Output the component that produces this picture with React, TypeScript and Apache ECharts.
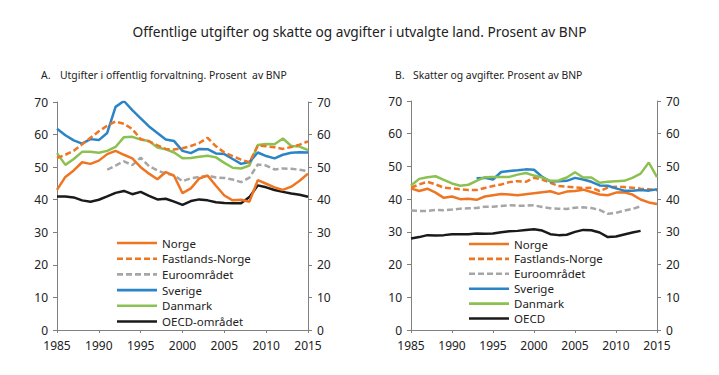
import React, { useEffect, useRef } from "react";
import * as echarts from "echarts";

const yearsA = Array.from({ length: 31 }, (_, i) => 1985 + i);
const yearsB = yearsA;

// Panel A: Utgifter i offentlig forvaltning (1985..2015)
const aNorge = [43, 47, 49, 51.5, 51, 52, 54, 55, 53.8, 52.7, 50, 48, 46.3, 48.5, 47.3, 42, 43.5, 46.5, 47.4, 44.3, 41.3, 39.8, 40, 39.4, 46, 44.9, 43.8, 43, 44, 45.8, 48];
const aFastland = [52.8, 53.8, 55, 57, 59, 61, 62.7, 64, 63.3, 61.7, 58.6, 57.9, 56.7, 55.6, 55.4, 55.8, 56.5, 57.4, 59, 56.4, 54.5, 53.4, 52.3, 51.5, 56.6, 56.4, 56.1, 55.6, 56.2, 56.9, 57.9];
const aEuro = [null, null, null, null, null, null, 49.2, 50.5, 51.8, 50.6, 52.9, 50.3, 49, 48, 47.5, 45.7, 46.6, 47, 47.4, 46.8, 46.7, 46.2, 45.4, 46.8, 50.8, 50.5, 49.3, 49.6, 49.5, 49.2, 48.8];
const aSverige = [61.8, 59.8, 58.2, 57.2, 58.6, 58.3, 60.5, 68.5, 70.3, 67.5, 65, 62.5, 60.5, 58.5, 58, 55, 54.3, 55.6, 55.5, 54.2, 54, 52.5, 51, 51.6, 54.5, 53.4, 52.7, 53.8, 54.4, 54.6, 54.5];
const aDanmark = [54.3, 50.7, 52.5, 54.7, 54.7, 54.4, 55, 56.2, 59.2, 59.3, 58.5, 58, 56, 55.5, 54.5, 52.7, 52.8, 53.2, 53.5, 53, 51.3, 49.8, 49.6, 50.5, 56.8, 57.1, 57, 58.8, 56.5, 56.3, 55.2];
const aOECD = [41, 41, 40.7, 39.8, 39.4, 40, 41, 42.1, 42.7, 41.7, 42.4, 41.2, 40.1, 40.3, 39.4, 38.4, 39.6, 40.1, 39.8, 39.2, 39, 38.9, 38.9, 40.8, 44.4, 43.8, 43, 42.4, 41.9, 41.5, 40.9];

// Panel B: Skatter og avgifter (1985..2015)
const bNorge = [43.3, 42.5, 43.2, 42, 40.4, 40.8, 40, 40.1, 39.8, 40.8, 41.2, 41.6, 41.4, 41.2, 41.5, 41.8, 42.1, 42.4, 41.6, 42.3, 42.5, 42.9, 42.2, 41.4, 41.2, 42, 42.1, 41.4, 39.9, 39, 38.5];
const bFastland = [43.5, 44.5, 45.3, 44.5, 43.5, 43.3, 43, 42.8, 42.8, 43.4, 44, 44.5, 45.2, 45.5, 45.3, 46.5, 46, 45, 44, 43.8, 43.6, 43.4, 43.5, 42.5, 43.5, 43.8, 43.7, 43.5, 43.2, 43, 42.7];
const bEuro = [36.5, 36.4, 36.4, 36.7, 36.6, 36.8, 37.1, 37.2, 37.3, 37.7, 37.7, 37.9, 38.1, 38, 38, 38.1, 37.6, 37.2, 37.1, 37, 37.4, 37.5, 37.3, 36.7, 35.5, 35.8, 36.5, 37, 37.8, null, null];
const bSverige = [null, null, null, null, null, null, null, null, 46.4, 46.5, 46, 48.3, 48.6, 48.8, 49.1, 49, 46.8, 45.4, 45.5, 45.6, 46.5, 46, 45.3, 44.2, 44.1, 43.3, 42.6, 42.6, 42.8, 42.6, 43];
const bDanmark = [44.2, 46.2, 46.7, 47, 45.9, 44.8, 44.1, 44.4, 45.6, 46.7, 46.8, 46.8, 46.8, 47.5, 48, 47.2, 46.6, 45.6, 45.7, 46.6, 48.2, 46.6, 46.6, 45, 45.3, 45.5, 45.6, 46.5, 47.8, 51.2, 46.7];
const bOECD = [28, 28.4, 29, 28.9, 29, 29.3, 29.3, 29.3, 29.5, 29.4, 29.5, 29.9, 30.2, 30.3, 30.6, 30.8, 30.4, 29.3, 29, 29.1, 30, 30.6, 30.5, 29.8, 28.4, 28.6, 29.2, 29.8, 30.3, null, null];

const legendA = ["Norge", "Fastlands-Norge", "Euroområdet", "Sverige", "Danmark", "OECD-området"];
const legendB = ["Norge ", "Fastlands-Norge ", "Euroområdet ", "Sverige ", "Danmark ", "OECD"];
const dashedNames = ["Fastlands-Norge", "Euroområdet"];

const ORANGE = "#EE7623";
const GRAY = "#A6A6A6";
const BLUE = "#2B84C6";
const GREEN = "#8CC152";
const BLACK = "#1A1A1A";
const FONT = "Noto Sans";

const SOLID_ICON = "path://M0,0H40V2.6H0Z";
const DASH_ICON = "path://M0,0H6V2.6H0Z M9,0H15V2.6H9Z M18,0H24V2.6H18Z M27,0H33V2.6H27Z M36,0H40V2.6H36Z";

const pairs = (years: number[], vals: (number | null)[]) =>
  years.map((y, i) => [y, vals[i] === null ? null : vals[i]]);

export default function App() {
  const ref = useRef<HTMLDivElement>(null);
  useEffect(() => {
    if (!ref.current) return;
    const chart = echarts.init(ref.current, undefined, { renderer: "svg" });
    const axisLine = { show: true, lineStyle: { color: "#808080", width: 1 } };
    const gridA = { left: 57, right: 411, top: 102, bottom: 45 };
    const gridB = { left: 411, right: 62, top: 101, bottom: 45 };
    const mkX = (gi: number, pos: "bottom" | "top") => ({
      type: "value",
      gridIndex: gi,
      position: pos,
      min: 1985,
      max: 2015,
      interval: 5,
      axisLine,
      axisTick: { show: pos === "bottom", length: 3, lineStyle: { color: "#808080" } },
      axisLabel: {
        show: pos === "bottom",
        color: "#222",
        fontSize: 12,
        lineHeight: 12,
        fontFamily: FONT,
        margin: 9,
        formatter: (v: number) => String(v),
      },
      splitLine: { show: false },
    });
    const mkY = (gi: number, pos: "left" | "right") => ({
      type: "value",
      gridIndex: gi,
      position: pos,
      min: 0,
      max: 70,
      interval: 10,
      axisLine,
      axisTick: { show: true, length: 4, lineStyle: { color: "#808080" } },
      axisLabel: { color: "#222", fontSize: 12, lineHeight: 12, fontFamily: FONT, margin: 9 },
      splitLine: { show: false },
    });
    const line = (name: string, xi: number, yi: number, years: number[], vals: (number | null)[], color: string, dashed = false) => ({
      type: "line",
      name,
      xAxisIndex: xi,
      yAxisIndex: yi,
      data: pairs(years, vals),
      symbol: "none",
      showSymbol: false,
      connectNulls: false,
      lineStyle: { color, width: 2.5, type: dashed ? [6, 3] : "solid" },
      itemStyle: { color },
    });
    const legendItems = (names: string[]) =>
      names.map((n) => ({ name: n, icon: dashedNames.includes(n.trim()) ? DASH_ICON : SOLID_ICON }));
    const legendBase = {
      orient: "vertical",
      itemWidth: 40,
      itemHeight: 3,
      textStyle: { fontSize: 11.5, lineHeight: 11.5, fontFamily: FONT, color: "#222" },
      selectedMode: false,
    };
    const sub = { fontSize: 10.4, fontWeight: "normal", fontFamily: FONT, color: "#222" };
    chart.setOption({
      animation: false,
      title: [
        {
          text: "Offentlige utgifter og skatte og avgifter i utvalgte land. Prosent av BNP",
          left: "center",
          top: 19,
          textStyle: { fontSize: 13.7, fontWeight: "normal", fontFamily: FONT, color: "#222" },
        },
        { text: "A.", left: 36, top: 65, textStyle: sub },
        { text: "Utgifter i offentlig forvaltning. Prosent  av BNP", left: 55, top: 65, textStyle: sub },
        { text: "B.", left: 390, top: 65, textStyle: sub },
        { text: "Skatter og avgifter. Prosent av BNP", left: 408, top: 65, textStyle: sub },
      ],
      legend: [
        { ...legendBase, left: 112, top: 232, itemGap: 3.7, data: legendItems(legendA) },
        { ...legendBase, left: 464, top: 233, itemGap: 2.9, data: legendItems(legendB) },
      ],
      grid: [gridA, gridB],
      xAxis: [mkX(0, "bottom"), mkX(0, "top"), mkX(1, "bottom"), mkX(1, "top")],
      yAxis: [mkY(0, "left"), mkY(0, "right"), mkY(1, "left"), mkY(1, "right")],
      series: [
        line("Euroområdet", 0, 0, yearsA, aEuro, GRAY, true),
        line("OECD-området", 0, 0, yearsA, aOECD, BLACK),
        line("Danmark", 0, 0, yearsA, aDanmark, GREEN),
        line("Sverige", 0, 0, yearsA, aSverige, BLUE),
        line("Norge", 0, 0, yearsA, aNorge, ORANGE),
        line("Fastlands-Norge", 0, 0, yearsA, aFastland, ORANGE, true),
        line("Euroområdet ", 2, 2, yearsB, bEuro, GRAY, true),
        line("OECD", 2, 2, yearsB, bOECD, BLACK),
        line("Norge ", 2, 2, yearsB, bNorge, ORANGE),
        line("Fastlands-Norge ", 2, 2, yearsB, bFastland, ORANGE, true),
        line("Sverige ", 2, 2, yearsB, bSverige, BLUE),
        line("Danmark ", 2, 2, yearsB, bDanmark, GREEN),
      ],
    });
    return () => chart.dispose();
  }, []);
  return <div ref={ref} style={{ position: "fixed", left: 0, top: 0, width: 719, height: 375, background: "#fff" }} />;
}
